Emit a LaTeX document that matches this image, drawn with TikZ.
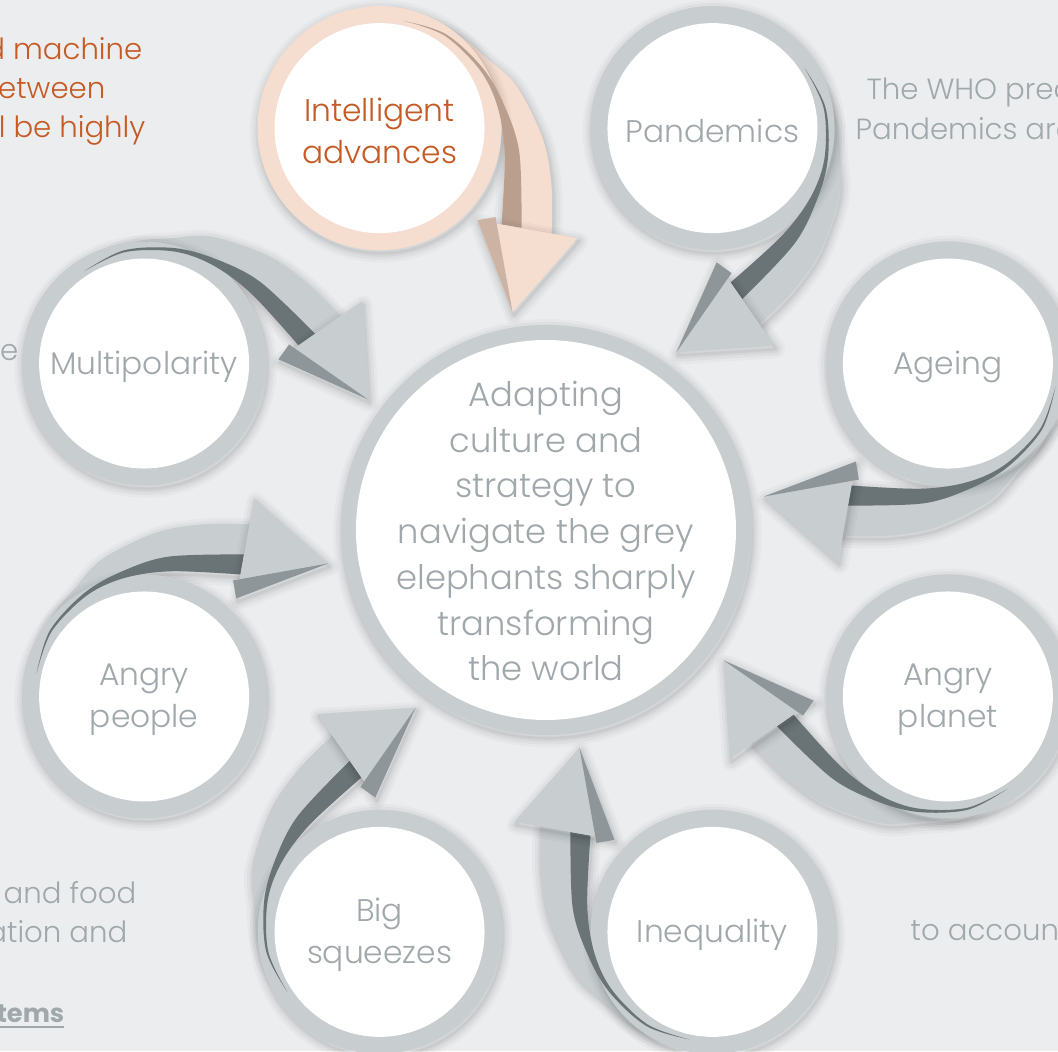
\documentclass[tikz,border=0pt]{standalone}
\usepackage{fontspec}
\IfFontExistsTF{Poppins Light}{\setmainfont{Poppins Light}}{\setmainfont{Poppins}}
\newfontfamily\popreg{Poppins}
\definecolor{bgc}{HTML}{ECEDEF}
\definecolor{ringc}{HTML}{C8CDCF}
\definecolor{darkc}{HTML}{6A7376}
\definecolor{foldc}{HTML}{8E9699}
\definecolor{txtc}{HTML}{A0A8AB}
\definecolor{orngc}{HTML}{C55A24}
\definecolor{peachc}{HTML}{F5DDCF}
\definecolor{peachdarkc}{HTML}{BA9F8F}
\definecolor{peachfoldc}{HTML}{CDB3A3}
\tikzset{
  shad/.style={
     preaction={draw=black, draw opacity=0.022, line width=5.2pt, line join=round, transform canvas={xshift=0.4pt, yshift=-0.9pt}},
     preaction={draw=black, draw opacity=0.03, line width=3.6pt, line join=round, transform canvas={xshift=0.4pt, yshift=-0.9pt}},
     preaction={draw=black, draw opacity=0.04, line width=2.0pt, line join=round, transform canvas={xshift=0.4pt, yshift=-0.9pt}},
     preaction={draw=black, draw opacity=0.05, line width=0.8pt, line join=round, transform canvas={xshift=0.4pt, yshift=-0.9pt}}},
  smalltext/.style={font=\fontsize{8.9}{11.9}\selectfont, align=center},
  sidetext/.style={font=\fontsize{8.3}{11}\selectfont, text=txtc, inner sep=0},
  hub/.style={circle, minimum size=3.8cm, inner sep=0, text=txtc, font=\fontsize{9.6}{13}\selectfont, align=center},
  satellite/.style={inner sep=0, smalltext}
}
\begin{document}
\begin{tikzpicture}[x=0.01cm, y=0.01cm]
\fill[bgc] (-546,530) rectangle (512,-521);
\useasboundingbox (-546,530) rectangle (512,-521);
\begin{scope}
\clip (-546,530) rectangle (512,-521);
% side texts
\node[sidetext, text=orngc, anchor=base east] (s1) at (-403,470) {d machine};
\node[sidetext, text=orngc, anchor=base east] (s2) at (-440,431) {etween};
\node[sidetext, text=orngc, anchor=base east] (s3) at (-400,392) {l be highly};
\node[sidetext, anchor=base east] (s4) at (-527,170) {e};
\node[sidetext, anchor=base west] (s5) at (320,430) {The WHO pred};
\node[sidetext, anchor=base west] (s6) at (309,390) {Pandemics are};
\node[sidetext, anchor=base east] (s7) at (-409,-373) {and food};
\node[sidetext, anchor=base east] (s8) at (-418,-412) {ation and};
\node[sidetext, anchor=base east, font=\fontsize{7.3}{10}\selectfont] (s9) at (-481,-492) {\popreg\bfseries\underline{tems}};
\node[sidetext, anchor=base west] (s10) at (364,-410) {to accoun};
% hub
\fill[ringc, shad] (0,0) circle (205);
\fill[white] (0,0) circle (190);
\node[hub] (core) at (0,-1) {Adapting\\culture and\\strategy to\\navigate the grey\\elephants sharply\\transforming\\the world};
% satellites with curved arrows
\foreach \i/\nm/\lbl/\rc/\dc/\fc/\tc in {
 0/intel/{Intelligent\\advances}/peachc/peachdarkc/peachfoldc/orngc,
 1/pand/{Pandemics}/ringc/darkc/foldc/txtc,
 2/age/{Ageing}/ringc/darkc/foldc/txtc,
 3/aplanet/{Angry\\planet}/ringc/darkc/foldc/txtc,
 4/ineq/{Inequality}/ringc/darkc/foldc/txtc,
 5/squeeze/{Big\\squeezes}/ringc/darkc/foldc/txtc,
 6/apeople/{Angry\\people}/ringc/darkc/foldc/txtc,
 7/multi/{Multipolarity}/ringc/darkc/foldc/txtc}
{
 \begin{scope}[shift={(112.5-45*\i:435)}, rotate=-45*\i]
  \fill[\rc, shad] plot[smooth, tension=0.55] coordinates {(78:110) (62:117) (48:122.5) (33:128) (17:143.5) (-4:164) (-19:182) (172,-105.3)}
     -- plot[smooth, tension=0.55] coordinates {(122,-96.3) (-12:128) (10:120) (30:116) (55:113) (78:110)} -- cycle;
  \fill[\rc, shad] (0,0) circle (122);
  \fill[white] (0,0) circle (105);
  \fill[\dc] plot[smooth, tension=0.55] coordinates {(78:110) (55:115) (30:119.5) (10:127) (-10:142) (142,-99.8)}
     -- plot[smooth, tension=0.55] coordinates {(122,-96.3) (-12:128) (10:120) (30:116) (55:113) (78:110)} -- cycle;
  \fill[\rc, shad] (98,-92) -- (198,-110) -- (133,-184) -- cycle;
  \fill[\fc] (98,-92) -- (116,-89) -- (133,-184) -- cycle;
 \end{scope}
 \node[satellite, text=\tc] (\nm) at ([yshift=-0.85pt]112.5-45*\i:435) {\lbl};
}
\end{scope}
\end{tikzpicture}
\end{document}
